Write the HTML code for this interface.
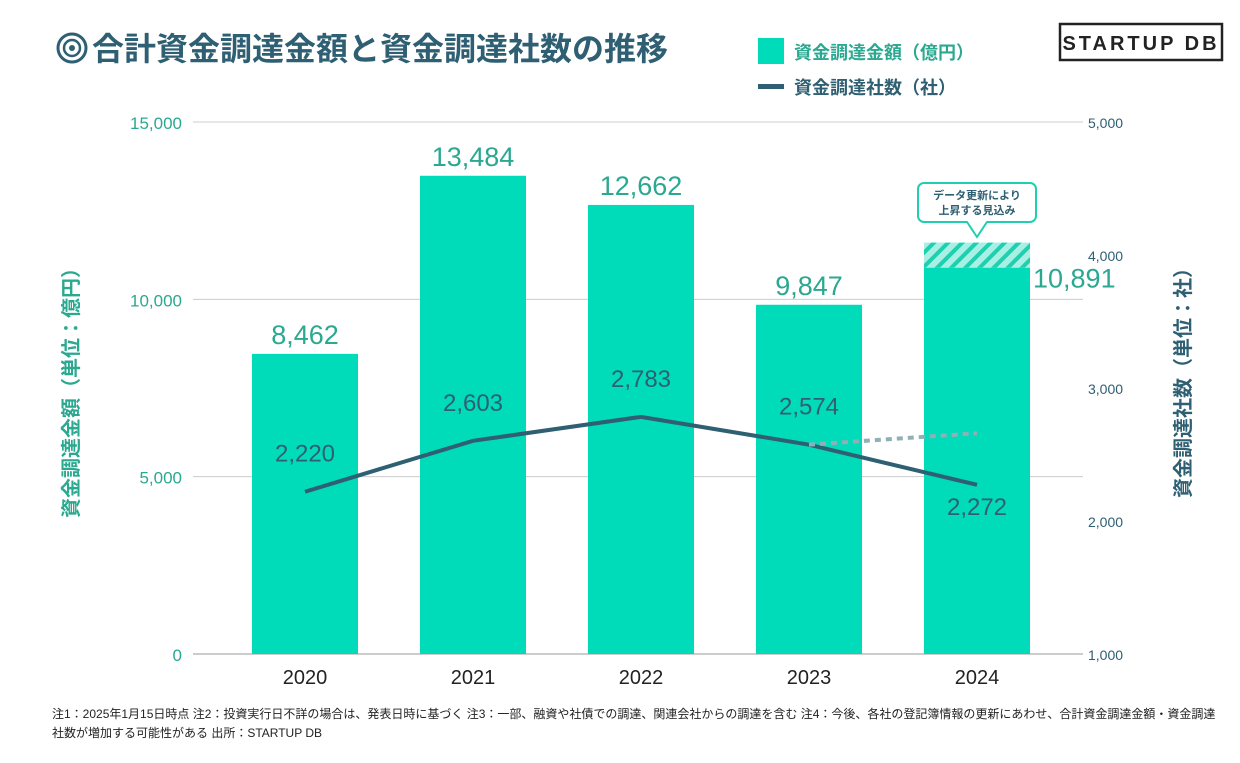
<!DOCTYPE html>
<html><head><meta charset="utf-8"><style>
body{margin:0;background:#fff;width:1240px;height:758px;overflow:hidden;font-family:"Liberation Sans","Noto Sans CJK JP",sans-serif}
svg text{font-family:"Liberation Sans","Noto Sans CJK JP",sans-serif}
</style></head><body>
<svg id="c" width="1240" height="758">
<defs><pattern id="hatch" width="10" height="10" patternUnits="userSpaceOnUse" patternTransform="rotate(45)"><rect width="10" height="10" fill="#a8f0e3"/><rect width="4" height="10" fill="#1fcfb0"/></pattern></defs>
<g>
<circle cx="72" cy="48" r="14" fill="none" stroke="#2f5f73" stroke-width="3"/><circle cx="72" cy="48" r="8" fill="none" stroke="#2f5f73" stroke-width="2.5"/><circle cx="72" cy="48" r="3" fill="#2f5f73"/>
<text x="92" y="60" font-size="32" font-weight="bold" fill="#2f5f73">合計資金調達金額と資金調達社数の推移</text></g>
<g>
<rect x="758" y="38" width="26" height="26" fill="#00dbb9"/><text x="794" y="59" font-size="18" font-weight="bold" fill="#2aa890">資金調達金額（億円）</text>
<rect x="758" y="84" width="26" height="5" fill="#2f5f73"/><text x="794" y="94" font-size="18" font-weight="bold" fill="#2f5f73">資金調達社数（社）</text></g>
<g><rect x="1060" y="24" width="162" height="36" fill="none" stroke="#222" stroke-width="2.5"/><text x="1141" y="50" font-size="20" font-weight="bold" text-anchor="middle" letter-spacing="3" fill="#222">STARTUP DB</text></g>
<text transform="translate(78,388) rotate(-90)" font-size="20" font-weight="bold" fill="#2aa890" text-anchor="middle">資金調達金額（単位：億円）</text>
<text transform="translate(1190,378) rotate(-90)" font-size="20" font-weight="bold" fill="#2f5f73" text-anchor="middle">資金調達社数（単位：社）</text>
<g id="g"></g>
<text x="52" y="718" font-size="12" fill="#222">注1：2025年1月15日時点 注2：投資実行日不詳の場合は、発表日時に基づく 注3：一部、融資や社債での調達、関連会社からの調達を含む 注4：今後、各社の登記簿情報の更新にあわせ、合計資金調達金額・資金調達</text>
<text x="52" y="737" font-size="12" fill="#222">社数が増加する可能性がある 出所：STARTUP DB</text>
</svg>
<script>
const years=["2020","2021","2022","2023","2024"];
const amounts=[8462,13484,12662,9847,10891];
const projectedAmount2024=11600;
const counts=[2220,2603,2783,2574,2272];
const projectedCount2024=2660;
const leftTicks=[0,5000,10000,15000];
const rightTicks=[1000,2000,3000,4000,5000];
const NS="http://www.w3.org/2000/svg",g=document.getElementById('g');
const X0=193,X1=1083,Y0=654,Y1=122;
const yL=v=>Y0-(v/15000)*(Y0-Y1);
const yR=v=>Y0-((v-1000)/4000)*(Y0-Y1);
const xc=i=>305+168*i;
function el(t,a,txt){const e=document.createElementNS(NS,t);for(const k in a)e.setAttribute(k,a[k]);if(txt!=null)e.textContent=txt;g.appendChild(e);return e;}
const fmt=v=>v.toLocaleString('en-US');
leftTicks.forEach(v=>{const l=el('line',{x1:X0,x2:X1,y1:yL(v),y2:yL(v),stroke:v===0?'#999':'#ccc','stroke-width':1});


const t=el('text',{x:182,y:yL(v)+7,'font-size':17,fill:'#2aa890','text-anchor':'end'},fmt(v));

});
rightTicks.forEach(v=>{const t=el('text',{x:1088,y:yR(v)+6,'font-size':14,fill:'#2f5f73'},fmt(v));

});
const bw=106;
years.forEach((y,i)=>{
if(i===4){const h=el('rect',{x:xc(i)-bw/2,y:yL(projectedAmount2024),width:bw,height:yL(amounts[i])-yL(projectedAmount2024),fill:'url(#hatch)'});

}
const r=el('rect',{x:xc(i)-bw/2,y:yL(amounts[i]),width:bw,height:Y0-yL(amounts[i]),fill:'#00dbb9'});


const lx=i===4?xc(i)+bw/2+3:xc(i), ly=i===4?yL(amounts[i])+20:yL(amounts[i])-10;
const t=el('text',{x:lx,y:ly,'font-size':27,fill:'#2aa890','text-anchor':i===4?'start':'middle'},fmt(amounts[i]));


const xt=el('text',{x:xc(i),y:684,'font-size':20,fill:'#222','text-anchor':'middle'},y);


});
const pts=counts.map((v,i)=>xc(i)+','+yR(v)).join(' ');
const pl=el('polyline',{points:pts,fill:'none',stroke:'#2f5f73','stroke-width':4});


const dl=el('line',{x1:xc(3),y1:yR(counts[3]),x2:xc(4),y2:yR(projectedCount2024),stroke:'#8fb0b6','stroke-width':4,'stroke-dasharray':'6,5'});


counts.forEach((v,i)=>{const t=el('text',{x:xc(i),y:i===4?yR(v)+30:yR(v)-30,'font-size':24,fill:'#2f5f73','text-anchor':'middle'},fmt(v));

});
const bx=xc(4);
const cb=el('path',{d:`M${bx-53},183 h106 a6 6 0 0 1 6 6 v27 a6 6 0 0 1 -6 6 h-43 l-10 15 l-10 -15 h-43 a6 6 0 0 1 -6 -6 v-27 a6 6 0 0 1 6 -6 z`,fill:'#fff',stroke:'#1fcfb0','stroke-width':2});


const c1=el('text',{x:bx,y:199,'font-size':11,'font-weight':'bold',fill:'#2f5f73','text-anchor':'middle'},'データ更新により');


const c2=el('text',{x:bx,y:214,'font-size':11,'font-weight':'bold',fill:'#2f5f73','text-anchor':'middle'},'上昇する見込み');


</script>
</body></html>
